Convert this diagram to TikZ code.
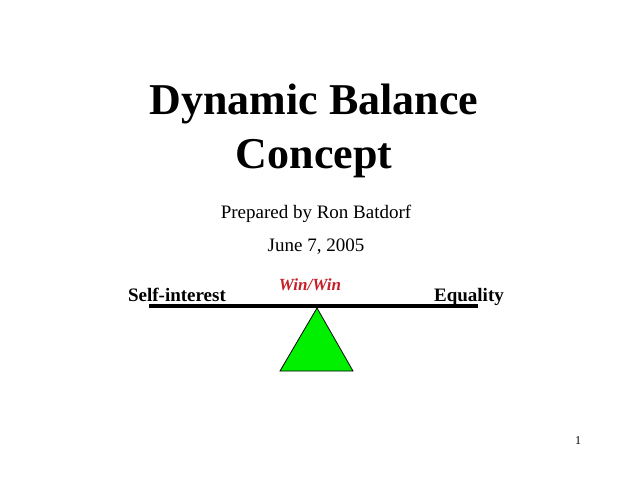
\documentclass[tikz,border=0pt]{standalone}
\usepackage{fontspec}
\setmainfont{Liberation Serif}
\begin{document}
\begin{tikzpicture}[x=1pt,y=-1pt,
  lbl/.style={inner sep=0pt,anchor=base},
  side/.style={lbl,font=\fontsize{19}{22}\selectfont\bfseries}]
\useasboundingbox[fill=white] (0,0) rectangle (638,479);
\node[lbl,font=\fontsize{44}{50}\selectfont\bfseries] (t1) at (314,114) {Dynamic Balance};
\node[lbl,font=\fontsize{44}{50}\selectfont\bfseries] (t2) at (314,168) {Concept};
\node[lbl,font=\fontsize{19}{22}\selectfont] (p) at (316,218) {Prepared by Ron Batdorf};
\node[lbl,font=\fontsize{19}{22}\selectfont] (d) at (316,251) {June 7, 2005};
\node[side] (s) at (177,301) {Self-interest};
\node[side] (e) at (469,301) {Equality};
\node[lbl,font=\fontsize{17}{20}\selectfont\bfseries\itshape,text={rgb,255:red,200;green,30;blue,40}] (w) at (310,290) {Win/Win};
\coordinate (bl) at (149,306);
\coordinate (br) at (478,306);
\draw[line width=4] (bl) -- (br);
\coordinate (apex) at (317,308);
\coordinate (b1) at (280,371);
\coordinate (b2) at (353,371);
\draw[fill={rgb,255:red,0;green,240;blue,0},line width=0.8] (apex) -- (b1) -- (b2) -- cycle;
\node[lbl,font=\fontsize{12}{14}\selectfont] (n) at (578,444) {1};
\end{tikzpicture}
\end{document}
